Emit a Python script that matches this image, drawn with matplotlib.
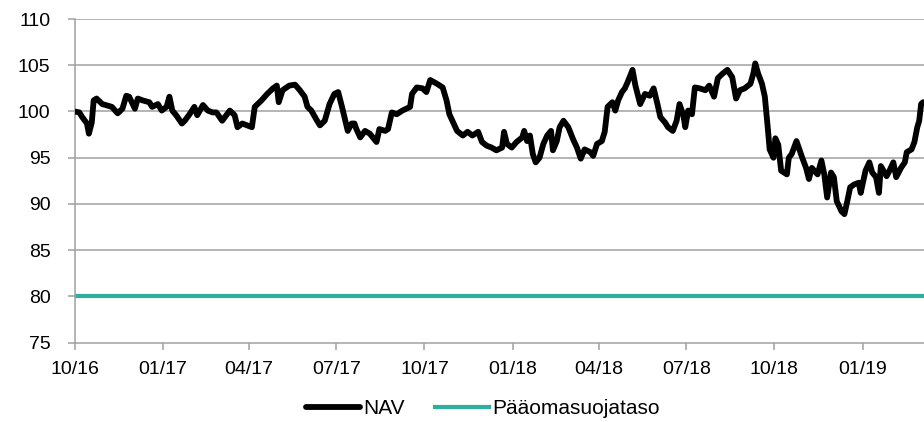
import matplotlib
matplotlib.use("Agg")
import matplotlib.pyplot as plt
import matplotlib.dates as mdates
import pandas as pd

nav_dates = [
    "2016-10-01", "2016-10-06", "2016-10-09", "2016-10-14", "2016-10-16", "2016-10-19", "2016-10-21", "2016-10-24",
    "2016-10-30", "2016-11-09", "2016-11-15", "2016-11-20", "2016-11-24", "2016-11-27", "2016-12-03", "2016-12-06",
    "2016-12-11", "2016-12-18", "2016-12-21", "2016-12-27", "2016-12-31", "2017-01-05", "2017-01-08", "2017-01-11",
    "2017-01-15", "2017-01-21", "2017-01-24", "2017-01-29", "2017-02-03", "2017-02-06", "2017-02-12", "2017-02-17",
    "2017-02-22", "2017-02-26", "2017-03-04", "2017-03-12", "2017-03-17", "2017-03-20", "2017-03-25", "2017-04-04",
    "2017-04-07", "2017-04-14", "2017-04-20", "2017-04-26", "2017-04-30", "2017-05-02", "2017-05-06", "2017-05-13",
    "2017-05-19", "2017-05-24", "2017-05-29", "2017-06-01", "2017-06-05", "2017-06-11", "2017-06-14", "2017-06-19",
    "2017-06-24", "2017-06-29", "2017-07-03", "2017-07-07", "2017-07-10", "2017-07-13", "2017-07-17", "2017-07-20",
    "2017-07-22", "2017-07-26", "2017-07-31", "2017-08-05", "2017-08-12", "2017-08-15", "2017-08-21", "2017-08-24",
    "2017-08-28", "2017-09-02", "2017-09-08", "2017-09-16", "2017-09-18", "2017-09-23", "2017-09-29", "2017-10-03",
    "2017-10-07", "2017-10-14", "2017-10-20", "2017-10-24", "2017-10-27", "2017-10-31", "2017-11-04", "2017-11-10",
    "2017-11-15", "2017-11-20", "2017-11-26", "2017-11-30", "2017-12-05", "2017-12-10", "2017-12-15", "2017-12-21",
    "2017-12-23", "2017-12-26", "2017-12-31", "2018-01-05", "2018-01-11", "2018-01-13", "2018-01-16", "2018-01-19",
    "2018-01-22", "2018-01-25", "2018-01-29", "2018-02-02", "2018-02-06", "2018-02-10", "2018-02-12", "2018-02-16",
    "2018-02-19", "2018-02-23", "2018-02-28", "2018-03-05", "2018-03-09", "2018-03-13", "2018-03-17", "2018-03-23",
    "2018-03-26", "2018-03-30", "2018-04-04", "2018-04-07", "2018-04-10", "2018-04-15", "2018-04-18", "2018-04-21",
    "2018-04-25", "2018-04-28", "2018-05-01", "2018-05-06", "2018-05-09", "2018-05-14", "2018-05-19", "2018-05-24",
    "2018-05-28", "2018-06-01", "2018-06-04", "2018-06-09", "2018-06-12", "2018-06-17", "2018-06-21", "2018-06-24",
    "2018-06-28", "2018-06-30", "2018-07-03", "2018-07-07", "2018-07-10", "2018-07-15", "2018-07-21", "2018-07-25",
    "2018-07-30", "2018-08-03", "2018-08-08", "2018-08-13", "2018-08-18", "2018-08-22", "2018-08-26", "2018-08-31",
    "2018-09-06", "2018-09-09", "2018-09-11", "2018-09-14", "2018-09-18", "2018-09-21", "2018-09-24", "2018-09-26",
    "2018-09-30", "2018-10-02", "2018-10-05", "2018-10-08", "2018-10-14", "2018-10-16", "2018-10-19", "2018-10-24",
    "2018-10-27", "2018-10-30", "2018-11-03", "2018-11-06", "2018-11-09", "2018-11-15", "2018-11-19", "2018-11-22",
    "2018-11-25", "2018-11-29", "2018-12-02", "2018-12-05", "2018-12-10", "2018-12-13", "2018-12-16", "2018-12-19",
    "2018-12-23", "2018-12-28", "2018-12-30", "2019-01-04", "2019-01-08", "2019-01-11", "2019-01-15", "2019-01-18",
    "2019-01-20", "2019-01-26", "2019-01-29", "2019-02-02", "2019-02-05", "2019-02-10", "2019-02-14", "2019-02-16",
    "2019-02-21", "2019-02-24", "2019-02-27", "2019-03-01", "2019-03-03", "2019-03-05",
]

nav_values = [
    100.0, 99.9, 99.4, 98.7, 97.6, 98.8, 101.2, 101.4,
    100.8, 100.5, 99.8, 100.3, 101.7, 101.6, 100.3, 101.4,
    101.2, 101.0, 100.5, 100.8, 100.1, 100.5, 101.6, 100.1,
    99.6, 98.7, 99.0, 99.7, 100.5, 99.6, 100.7, 100.1,
    99.9, 99.9, 99.0, 100.1, 99.6, 98.3, 98.7, 98.3,
    100.5, 101.2, 101.9, 102.5, 102.8, 101.0, 102.3, 102.8,
    102.9, 102.3, 101.6, 100.5, 100.1, 99.0, 98.5, 99.0,
    100.8, 101.9, 102.1, 100.5, 99.2, 97.9, 98.7, 98.7,
    98.1, 97.2, 97.9, 97.6, 96.7, 98.1, 97.9, 98.1,
    99.9, 99.7, 100.1, 100.5, 101.9, 102.6, 102.5, 102.1,
    103.4, 103.0, 102.6, 101.2, 99.7, 98.8, 97.9, 97.4,
    97.8, 97.4, 97.8, 96.7, 96.3, 96.1, 95.8, 96.1,
    97.8, 96.5, 96.1, 96.7, 97.2, 97.9, 96.8, 97.4,
    95.4, 94.5, 95.0, 96.5, 97.4, 97.9, 95.8, 96.8,
    98.3, 99.0, 98.3, 97.0, 96.1, 94.9, 95.9, 95.6,
    95.2, 96.5, 96.8, 97.8, 100.5, 101.0, 100.1, 101.2,
    102.1, 102.5, 103.2, 104.5, 102.8, 100.8, 101.9, 101.7,
    102.5, 100.8, 99.4, 98.8, 98.3, 97.9, 99.0, 100.8,
    99.6, 98.3, 100.1, 99.7, 102.6, 102.5, 102.3, 102.8,
    101.6, 103.6, 104.1, 104.5, 103.7, 101.4, 102.3, 102.5,
    103.0, 104.1, 105.2, 104.1, 103.0, 101.6, 98.3, 95.9,
    95.0, 97.1, 96.4, 93.6, 93.2, 95.0, 95.4, 96.8,
    95.9, 95.0, 93.9, 92.7, 93.9, 93.2, 94.7, 93.2,
    90.7, 93.4, 92.9, 90.3, 89.2, 88.9, 90.3, 91.8,
    92.1, 92.3, 91.2, 93.6, 94.5, 93.4, 92.9, 91.2,
    94.1, 93.0, 93.6, 94.5, 92.9, 93.9, 94.5, 95.6,
    95.9, 96.7, 98.3, 99.0, 100.8, 101.0,
]

protection_level = 80
x_start = "2016-10-01"
x_end = "2019-03-06"
y_ticks = [75, 80, 85, 90, 95, 100, 105, 110]
x_tick_dates = ["2016-10-01", "2017-01-01", "2017-04-01", "2017-07-01", "2017-10-01",
                "2018-01-01", "2018-04-01", "2018-07-01", "2018-10-01", "2019-01-01"]
series_names = ["NAV", "Pääomasuojataso"]

plt.rcParams['font.family'] = ['Liberation Sans', 'DejaVu Sans']

dates = pd.to_datetime(nav_dates)
x0, x1 = pd.Timestamp(x_start), pd.Timestamp(x_end)

fig = plt.figure(figsize=(9.24, 4.22), dpi=100)
ax = fig.add_axes([74.5 / 924, 1 - 342.7 / 422, 1 - 74.5 / 924, (342.7 - 19) / 422])

grid_c = '#A0A0A0'
for yv in y_ticks[1:]:
    ax.axhline(yv, color=grid_c, lw=1.1, zorder=1)

ax.plot(dates, nav_values, color='black', lw=4.2, solid_joinstyle='round',
        solid_capstyle='round', zorder=3, label=series_names[0])
ax.plot([x0, x1], [protection_level, protection_level], color='#2EAE9C', lw=3.0,
        zorder=2, label=series_names[1])

ax.set_xlim(x0, x1)
ax.set_ylim(75, 110)
ax.set_yticks(y_ticks)
ax.set_xticks(pd.to_datetime(x_tick_dates))
ax.xaxis.set_major_formatter(mdates.DateFormatter('%m/%y'))

for s in ['top', 'right']:
    ax.spines[s].set_visible(False)
for s in ['left', 'bottom']:
    ax.spines[s].set_color(grid_c)
    ax.spines[s].set_linewidth(1.1)

ax.tick_params(axis='y', direction='out', length=5.3, width=1.1, color=grid_c,
               labelsize=14, pad=12, labelcolor='black')
ax.tick_params(axis='x', direction='out', length=4.8, width=1.1, color=grid_c,
               labelsize=14, pad=8.5, labelcolor='black')

fig.legend(loc='center', bbox_to_anchor=(0.5227, 0.031), ncol=2, frameon=False,
           fontsize=15, handlelength=2.6, handletextpad=0.15, columnspacing=1.45)

fig.savefig('out.png', dpi=100)
